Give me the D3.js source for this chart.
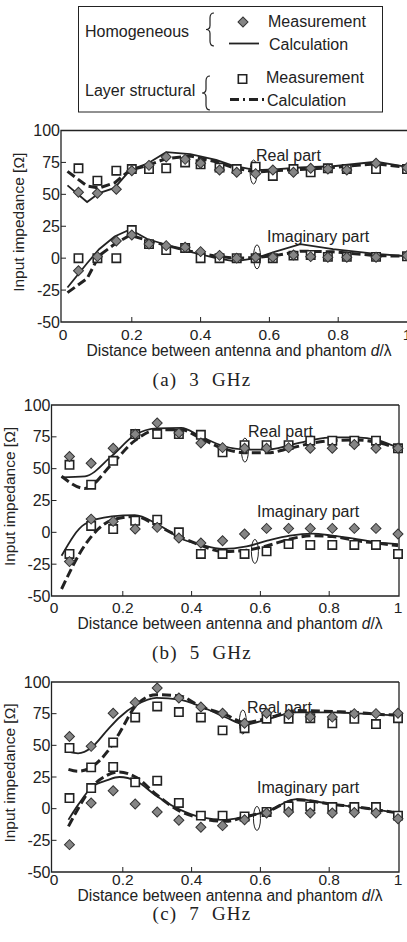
<!DOCTYPE html>
<html>
<head>
<meta charset="utf-8">
<script src="https://cdn.jsdelivr.net/npm/d3@7"></script>
<style>
  body { margin: 0; background: #fff; }
  svg { display: block; font-family: "Liberation Sans", Arial, sans-serif; }
</style>
</head>
<body>
<div id="chart"></div>
<script>
// ---- data (d/lambda, impedance in ohm) ----
// (a) 3 GHz
const dMeasA = [0.045, 0.1, 0.155, 0.2, 0.25, 0.3, 0.355, 0.4, 0.455, 0.505, 0.56, 0.61, 0.67, 0.72, 0.77, 0.825, 0.91, 1.0];
const homReA = [51.6, 50.8, 54, 68.5, 72.7, 79.3, 77.4, 74.3, 69, 67.3, 66.2, 69, 67.3, 70.4, 69.8, 69, 74.3, 70.9];
const layReA = [70.4, 60.7, 68.5, 69.8, 69.8, 70.4, 75, 73.5, 71, 69.8, 71.6, 64.4, 69.8, 67.3, 70.4, 69.8, 69.8, 69.8];
const homImA = [-9.8, 1.2, 13.5, 18.2, 11.1, 9.8, 8.5, 5.1, 2.2, 0, 0.7, 0.7, 2.5, 1.2, 0.7, 0.7, 0.7, 2];
const layImA = [0, 0, 0, 22, 11, 6.4, 8, 0, 0, 0, 0, 0, 2, 2.5, 1, 1, 1, 1.5];
const dCalcA = [0.013, 0.07, 0.105, 0.15, 0.195, 0.245, 0.3, 0.37, 0.445, 0.5, 0.56, 0.615, 0.69, 0.785, 0.91, 1.0];
const homCalcReA = [57, 44, 51, 55, 69, 74, 83, 81.5, 77, 72, 69, 69.5, 71, 72, 75.5, 71.5];
const layCalcReA = [68, 56.5, 55, 59, 69, 72.5, 78, 80, 75.5, 70.5, 67.5, 68.5, 69.5, 71, 74, 71];
const homCalcImA = [-23, -4, 7, 17, 22.5, 15, 10.5, 5, 0, -2.5, 0, 5, 11, 7, 3.3, 1.5];
const layCalcImA = [-27, -16, 2, 11, 18, 14, 10, 5.5, 1.5, 0, 0.5, 2, 5.5, 5, 2, 1.5];

// (b) 5 GHz
const dMeasB = [0.045, 0.108, 0.172, 0.236, 0.3, 0.363, 0.427, 0.49, 0.554, 0.618, 0.682, 0.745, 0.809, 0.873, 0.936, 1.0];
const homReB = [59.6, 54.2, 66, 77, 85.8, 78, 70.1, 66.5, 66, 66, 66.5, 66, 66, 69, 66, 66];
const layReB = [53, 37.4, 56.2, 77.2, 77.2, 77.2, 76.6, 62.8, 68.5, 68.5, 68.5, 72, 72, 72, 72, 66];
const homImB = [-23, 10.4, 8.6, 2.6, 3.9, -4.5, -8.4, -6.6, -1.3, 3.1, 3.1, 3.1, 3.1, 3.1, 3.1, -1.3];
const layImB = [-17, 5, 2.6, 9.1, 9.9, 0, -17, -17, -17, -14.9, -9.2, -9.9, -9.9, -9.9, -9.9, -17];
const dCalcB = [0.022, 0.09, 0.168, 0.235, 0.3, 0.37, 0.425, 0.49, 0.56, 0.62, 0.686, 0.75, 0.81, 0.88, 0.94, 1.0];
const homCalcReB = [43.2, 44, 60, 76.4, 81.6, 82, 75.5, 68, 65, 65, 68.5, 72.5, 74.5, 74.5, 72.5, 66.5];
const layCalcReB = [44, 34.5, 53.6, 72, 80.5, 80.5, 74, 66, 62.5, 62.5, 66, 70, 72, 72.6, 70.6, 66];
const homCalcImB = [-18.4, 6.5, 12.5, 13.5, 6.5, -5, -9.5, -13, -11, -6.6, -2.6, -1, -2.6, -5.3, -7.9, -9.2];
const layCalcImB = [-44.5, -10, 9.5, 12.5, 5.2, -4, -10, -15, -14, -10.5, -5.3, -2.6, -3.3, -6.6, -8.5, -10.5];

// (c) 7 GHz
const dMeasC = [0.045, 0.108, 0.172, 0.236, 0.3, 0.363, 0.427, 0.49, 0.554, 0.618, 0.682, 0.745, 0.809, 0.873, 0.936, 1.0];
const homReC = [57, 49.2, 75.3, 83.9, 95.3, 87.4, 80.3, 75.3, 67.4, 75.3, 74.5, 72.5, 72.3, 75, 75, 75.3];
const layReC = [47.9, 32.6, 52.3, 72, 80.7, 76.3, 72, 61.8, 63.5, 71, 71, 71.4, 67.4, 70.9, 66.8, 71.4];
const homImC = [-28.4, 4.5, 14.2, 3.7, -2.6, -9.2, -14.7, -13.4, -8.7, -3.4, -2.6, -3.4, -3.4, -3, -3.4, -7.9];
const layImC = [8.4, 16.3, 32.9, 20.8, 22.1, 4.5, -5.5, -5.5, -6.1, -2.6, 1.8, 1.8, 1.3, 1.3, 1.3, -5.5];
const dCalcC = [0.042, 0.07, 0.11, 0.155, 0.19, 0.24, 0.298, 0.366, 0.424, 0.5, 0.555, 0.62, 0.705, 0.81, 0.88, 0.94, 1.0];
const homCalcReC = [45, 43.7, 48.5, 62, 72, 82, 87.5, 86, 81, 72, 66.5, 70.5, 76, 76, 75.3, 74.5, 73.5];
const layCalcReC = [31, 29.5, 33, 45, 59.6, 82, 90, 89, 81, 74, 68, 71.4, 77.5, 76.7, 76, 74.5, 74];
const homCalcImC = [-8.7, 3, 17, 22.5, 25, 21.6, 10, -0.8, -6.6, -8.7, -6.1, -2.1, 7.6, 3.4, 1.3, -1, -3.4];
const layCalcImC = [-14, 0, 17, 26.5, 29, 24.6, 11, -2, -7.4, -10, -6.5, -2.1, 7, 3.4, 1.3, -1, -3.4];

// ticks
const xTicks = [0, 0.2, 0.4, 0.6, 0.8, 1];
const yTicks = [-50, -25, 0, 25, 50, 75, 100];

const W = 407, H = 942;
const ink = "#222";

const svg = d3.select("#chart").append("svg")
    .attr("width", W)
    .attr("height", H);

// ---- legend ----
const lg = svg.append("g");
lg.append("rect")
    .attr("x", 78.5).attr("y", 6.5)
    .attr("width", 304).attr("height", 105.5)
    .attr("fill", "none").attr("stroke", ink).attr("stroke-width", 1);

function brace(x, y0, y1) {
    const m = (y0 + y1) / 2, w = 8, h = w / 2;
    return `M${x + w},${y0} Q${x + h},${y0} ${x + h},${y0 + 5} L${x + h},${m - 4} Q${x + h},${m} ${x},${m}`
        + ` Q${x + h},${m} ${x + h},${m + 4} L${x + h},${y1 - 5} Q${x + h},${y1} ${x + w},${y1}`;
}

const legendFont = "16px";
lg.append("text").attr("x", 85).attr("y", 37).style("font-size", legendFont).attr("fill", ink).text("Homogeneous");
lg.append("text").attr("x", 85).attr("y", 96).style("font-size", legendFont).attr("fill", ink).text("Layer structural");
lg.append("path").attr("d", brace(206, 13, 46)).attr("fill", "none").attr("stroke", ink).attr("stroke-width", 1.2);
lg.append("path").attr("d", brace(202, 76, 110)).attr("fill", "none").attr("stroke", ink).attr("stroke-width", 1.2);

const diamond = d3.symbol().type(d3.symbolSquare).size(50);
const square = d3.symbol().type(d3.symbolSquare).size(70);

lg.append("path").attr("d", diamond()).attr("transform", "translate(243,22) rotate(45)")
    .attr("fill", "#858585").attr("stroke", "#333").attr("stroke-width", 1);
lg.append("text").attr("x", 268).attr("y", 27).style("font-size", legendFont).attr("fill", ink).text("Measurement");
lg.append("line").attr("x1", 229).attr("x2", 259).attr("y1", 43.5).attr("y2", 43.5)
    .attr("stroke", ink).attr("stroke-width", 1.8);
lg.append("text").attr("x", 269).attr("y", 50).style("font-size", legendFont).attr("fill", ink).text("Calculation");

lg.append("path").attr("d", square()).attr("transform", "translate(242.5,79)")
    .attr("fill", "#fff").attr("stroke", ink).attr("stroke-width", 1.6);
lg.append("text").attr("x", 266).attr("y", 83).style("font-size", legendFont).attr("fill", ink).text("Measurement");
lg.append("line").attr("x1", 230).attr("x2", 265).attr("y1", 99.5).attr("y2", 99.5)
    .attr("stroke", ink).attr("stroke-width", 3).attr("stroke-dasharray", "9,4,2,4");
lg.append("text").attr("x", 267).attr("y", 106).style("font-size", legendFont).attr("fill", ink).text("Calculation");

// ---- panels ----
const panels = [
    {
        left: 61, right: 408, x0: 63, x1: 407, top: 130.5, bottom: 322,
        tickDy: 18, titleDy: 34, capY: 386,
        caption: "(a) 3 GHz", curve: d3.curveLinear,
        dMeas: dMeasA, homRe: homReA, layRe: layReA, homIm: homImA, layIm: layImA,
        dCalc: dCalcA, homCalcRe: homCalcReA, layCalcRe: layCalcReA, homCalcIm: homCalcImA, layCalcIm: layCalcImA,
        reLabel: [0.561, 76], imLabel: [0.593, 12.7], reLoop: [0.554, 67.5], imLoop: [0.564, 1]
    },
    {
        left: 51.5, right: 399, x0: 54, x1: 398, top: 405, bottom: 596,
        tickDy: 17, titleDy: 33, capY: 659,
        caption: "(b) 5 GHz", curve: d3.curveMonotoneX,
        dMeas: dMeasB, homRe: homReB, layRe: layReB, homIm: homImB, layIm: layImB,
        dCalc: dCalcB, homCalcRe: homCalcReB, layCalcRe: layCalcReB, homCalcIm: homCalcImB, layCalcIm: layCalcImB,
        reLabel: [0.564, 75], imLabel: [0.59, 12.3], reLoop: [0.555, 64.6], imLoop: [0.584, -15]
    },
    {
        left: 51.5, right: 399, x0: 54, x1: 398, top: 682, bottom: 872,
        tickDy: 13, titleDy: 29, capY: 920,
        caption: "(c) 7 GHz", curve: d3.curveMonotoneX,
        dMeas: dMeasC, homRe: homReC, layRe: layReC, homIm: homImC, layIm: layImC,
        dCalc: dCalcC, homCalcRe: homCalcReC, layCalcRe: layCalcReC, homCalcIm: homCalcImC, layCalcIm: layCalcImC,
        reLabel: [0.561, 75.3], imLabel: [0.59, 12.4], reLoop: [0.549, 68.4], imLoop: [0.59, -7.7]
    }
];

panels.forEach(p => {
    const x = d3.scaleLinear().domain([0, 1]).range([p.x0, p.x1]);
    const y = d3.scaleLinear().domain([-50, 100]).range([p.bottom, p.top]);
    const g = svg.append("g");

    // frame (top, left, bottom, right)
    g.append("path")
        .attr("d", `M${p.right},${p.top} L${p.left},${p.top} L${p.left},${p.bottom} L${p.right},${p.bottom} L${p.right},${p.top}`)
        .attr("fill", "none").attr("stroke", ink).attr("stroke-width", 1.3);

    // inward ticks
    g.selectAll(".xt").data(xTicks.slice(1, -1)).join("line")
        .attr("x1", d => x(d)).attr("x2", d => x(d))
        .attr("y1", p.bottom).attr("y2", p.bottom - 5)
        .attr("stroke", ink).attr("stroke-width", 1);
    g.selectAll(".yt").data(yTicks.slice(1, -1)).join("line")
        .attr("x1", p.left).attr("x2", p.left + 5)
        .attr("y1", d => y(d)).attr("y2", d => y(d))
        .attr("stroke", ink).attr("stroke-width", 1);

    // tick labels
    g.selectAll(".xl").data(xTicks).join("text")
        .attr("x", d => x(d)).attr("y", p.bottom + p.tickDy)
        .attr("text-anchor", "middle").style("font-size", "15.5px").attr("fill", ink)
        .text(d => d3.format("~g")(d));
    g.selectAll(".yl").data(yTicks).join("text")
        .attr("x", p.left - 1).attr("y", d => y(d) + 5.5)
        .attr("text-anchor", "end").style("font-size", "16px").attr("fill", ink)
        .text(d => d);

    // axis titles
    const xt = g.append("text")
        .attr("x", (p.x0 + p.x1) / 2 + 4).attr("y", p.bottom + p.titleDy)
        .attr("text-anchor", "middle").style("font-size", "15.6px").attr("fill", ink);
    xt.append("tspan").text("Distance between antenna and phantom ");
    xt.append("tspan").style("font-style", "italic").text("d");
    xt.append("tspan").text("/λ");

    g.append("text")
        .attr("transform", `translate(${p.left - 37},${(p.top + p.bottom) / 2 - 4}) rotate(-90)`)
        .attr("text-anchor", "middle").style("font-size", "15.5px").attr("fill", ink)
        .text("Input impedance [Ω]");

    // caption
    g.append("text")
        .attr("x", 202).attr("y", p.capY)
        .attr("text-anchor", "middle")
        .style("font-family", "'Liberation Serif', 'DejaVu Serif', serif")
        .style("font-size", "19px")
        .style("letter-spacing", "1.2px")
        .style("word-spacing", "6px")
        .attr("fill", ink)
        .text(p.caption);

    // calculation curves
    const line = vals => d3.line()
        .x((d, i) => x(p.dCalc[i]))
        .y(d => y(d))
        .curve(p.curve)(vals);

    [p.homCalcRe, p.homCalcIm].forEach(vals => {
        g.append("path").attr("d", line(vals))
            .attr("fill", "none").attr("stroke", ink).attr("stroke-width", 1.8);
    });
    [p.layCalcRe, p.layCalcIm].forEach(vals => {
        g.append("path").attr("d", line(vals))
            .attr("fill", "none").attr("stroke", ink).attr("stroke-width", 3)
            .attr("stroke-dasharray", "9,4");
    });

    // annotations
    g.append("text").attr("x", x(p.reLabel[0])).attr("y", y(p.reLabel[1]))
        .style("font-size", "16px").attr("fill", ink).text("Real part");
    g.append("text").attr("x", x(p.imLabel[0])).attr("y", y(p.imLabel[1]))
        .style("font-size", "16px").attr("fill", ink).text("Imaginary part");
    [p.reLoop, p.imLoop].forEach(c => {
        g.append("ellipse")
            .attr("cx", x(c[0])).attr("cy", y(c[1]))
            .attr("rx", 3.5).attr("ry", 12)
            .attr("fill", "none").attr("stroke", ink).attr("stroke-width", 1);
    });

    // measurements: squares (layer), then diamonds (homogeneous)
    const pts = (vals) => vals.map((v, i) => [p.dMeas[i], v]);
    [p.layRe, p.layIm].forEach(vals => {
        g.selectAll(null).data(pts(vals)).join("path")
            .attr("d", square())
            .attr("transform", d => `translate(${x(d[0])},${y(d[1])})`)
            .attr("fill", "#fff").attr("stroke", ink).attr("stroke-width", 1.6);
    });
    [p.homRe, p.homIm].forEach(vals => {
        g.selectAll(null).data(pts(vals)).join("path")
            .attr("d", diamond())
            .attr("transform", d => `translate(${x(d[0])},${y(d[1])}) rotate(45)`)
            .attr("fill", "#858585").attr("stroke", "#333").attr("stroke-width", 1);
    });
});
</script>
</body>
</html>
